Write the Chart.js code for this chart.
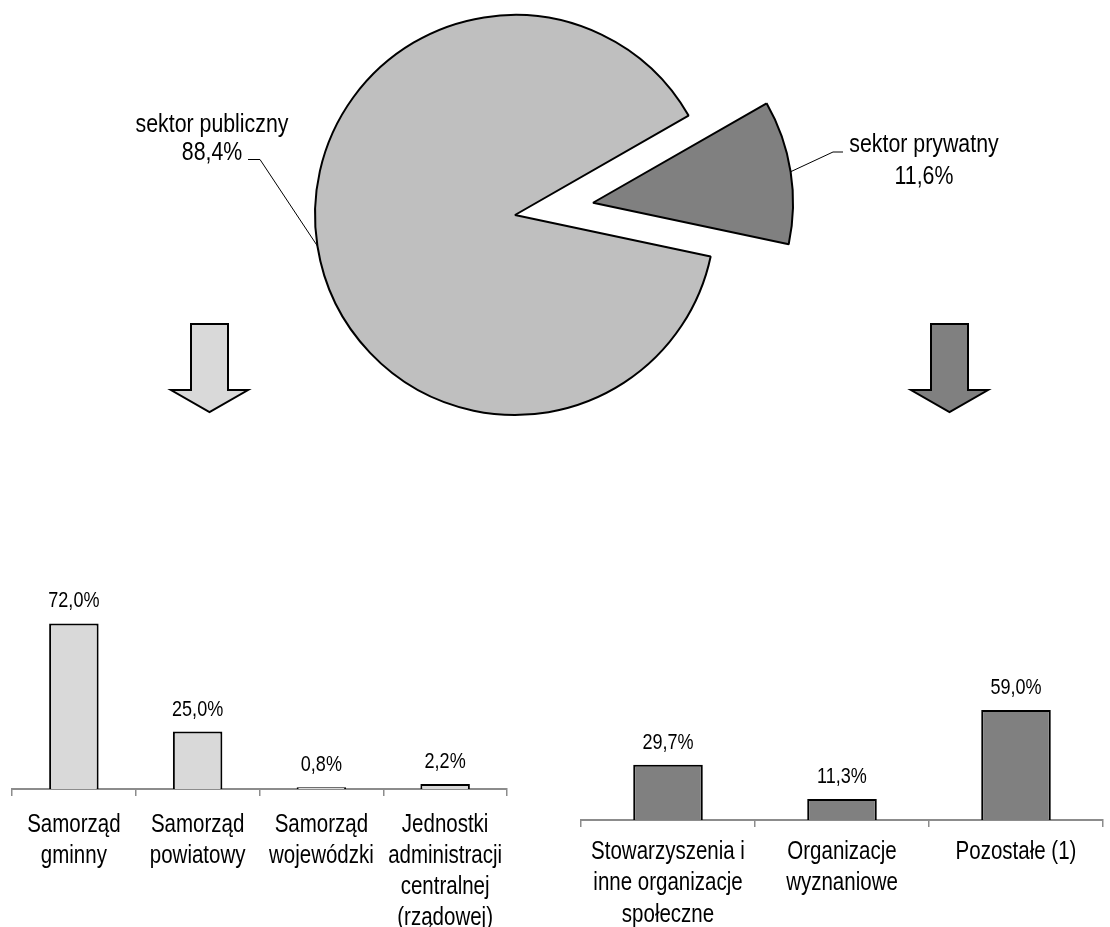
<!DOCTYPE html>
<html><head><meta charset="utf-8">
<script src="https://cdn.jsdelivr.net/npm/chart.js@4/dist/chart.umd.min.js"></script>
<style>
html,body{margin:0;padding:0;background:#fff;}
#wrap{position:relative;width:1110px;height:927px;overflow:hidden;}
canvas{position:absolute;}
</style></head><body>
<div id="wrap">
<canvas id="pie" width="1110" height="480" style="left:0;top:0"></canvas>
<canvas id="barL" width="520" height="387" style="left:0;top:540px"></canvas>
<canvas id="barR" width="540" height="367" style="left:570px;top:560px"></canvas>
</div>
<script>
// ---- data ----
const sectorLabels = ['sektor prywatny', 'sektor publiczny'];
const sectorValues = [11.6, 88.4];

const publicLabels = [['Samorząd','gminny'],['Samorząd','powiatowy'],['Samorząd','wojewódzki'],['Jednostki','administracji','centralnej','(rządowej)']];
const publicValues = [72.0, 25.0, 0.8, 2.2];

const privateLabels = [['Stowarzyszenia i','inne organizacje','społeczne'],['Organizacje','wyznaniowe'],['Pozostałe (1)']];
const privateValues = [29.7, 11.3, 59.0];

// ---- styling ----
const FONT = "'Liberation Sans',Arial,sans-serif";
const SQUEEZE = 0.82; // horizontal condensing of all text, as in the reference
Chart.defaults.font.family = FONT;
Chart.defaults.color = '#000';
const fmt = v => v.toFixed(1).replace('.', ',') + '%';

function condensedText(ctx, text, x, y, size){
  ctx.save();
  ctx.translate(x, y);
  ctx.scale(SQUEEZE, 1);
  ctx.font = `${size}px ${FONT}`;
  ctx.fillStyle = '#000';
  ctx.textAlign = 'center';
  ctx.textBaseline = 'alphabetic';
  ctx.fillText(text, 0, 0);
  ctx.restore();
}

const explode = [79, 0];
const pieLabelLayout = [
  {elbow:[833,152], end:[843,152], x:924, y:[152,184]},
  {elbow:[260,159.5], end:[248,159.5], x:212, y:[132,160]}
];
const arrows = [{cx:209.5, color:'#d9d9d9'}, {cx:949.5, color:'#808080'}];

const pieDecor = {
  id:'pieDecor',
  afterDatasetUpdate(chart, args){
    args.meta.data.forEach((el,i)=>{
      const d = explode[i] || 0; if(!d) return;
      const mid = (el.startAngle + el.endAngle)/2;
      el.x += Math.cos(mid)*d; el.y += Math.sin(mid)*d;
    });
  },
  afterDraw(chart){
    const ctx = chart.ctx;
    const meta = chart.getDatasetMeta(0);
    ctx.save();
    meta.data.forEach((el,i)=>{
      const mid = (el.startAngle + el.endAngle)/2;
      const r = el.outerRadius;
      const ax = el.x + Math.cos(mid)*r, ay = el.y + Math.sin(mid)*r;
      const L = pieLabelLayout[i];
      ctx.beginPath();
      ctx.moveTo(ax, ay); ctx.lineTo(L.elbow[0], L.elbow[1]); ctx.lineTo(L.end[0], L.end[1]);
      ctx.strokeStyle = '#000'; ctx.lineWidth = 1; ctx.stroke();
      condensedText(ctx, chart.data.labels[i], L.x, L.y[0], 26);
      condensedText(ctx, fmt(chart.data.datasets[0].data[i]), L.x, L.y[1], 26);
    });
    arrows.forEach(a=>{
      const c = a.cx;
      ctx.beginPath();
      ctx.moveTo(c-18.5, 324); ctx.lineTo(c+18.5, 324); ctx.lineTo(c+18.5, 390);
      ctx.lineTo(c+38.5, 390); ctx.lineTo(c, 412); ctx.lineTo(c-38.5, 390);
      ctx.lineTo(c-18.5, 390); ctx.closePath();
      ctx.fillStyle = a.color; ctx.fill();
      ctx.strokeStyle = '#000'; ctx.lineWidth = 2; ctx.stroke();
    });
    ctx.restore();
  }
};

new Chart(document.getElementById('pie'), {
  type:'pie',
  data:{labels:sectorLabels, datasets:[{data:sectorValues, backgroundColor:['#808080','#bfbfbf'], borderColor:'#000', borderWidth:2, radius:200}]},
  options:{
    responsive:false, animation:false, events:[],
    rotation:60.2,
    layout:{padding:{left:0,right:80,top:0,bottom:50}},
    plugins:{legend:{display:false}, tooltip:{enabled:false}}
  },
  plugins:[pieDecor]
});

// value labels above bars and condensed category labels under the axis
const barText = {
  id:'barText',
  afterDatasetsDraw(chart, args, opts){
    const ctx = chart.ctx; const meta = chart.getDatasetMeta(0);
    const vals = chart.data.datasets[0].data;
    meta.data.forEach((el,i)=>condensedText(ctx, fmt(vals[i]), el.x, el.y - 16, 22));
    const xs = chart.scales.x;
    chart.data.labels.forEach((lab,i)=>{
      const x = xs.getPixelForTick(i);
      const lines = Array.isArray(lab) ? lab : [lab];
      lines.forEach((ln,j)=>condensedText(ctx, ln, x, xs.top + opts.first + j*31.3, 25));
    });
  }
};

function barChart(id, labels, values, color, cfg){
  return new Chart(document.getElementById(id), {
    type:'bar',
    data:{labels, datasets:[{data:values, backgroundColor:color, borderColor:'#000', borderWidth:2, categoryPercentage:1, barPercentage:0.4}]},
    options:{
      responsive:false, animation:false, events:[],
      layout:{padding:cfg.padding},
      plugins:{legend:{display:false}, tooltip:{enabled:false}, barText:{first:cfg.first}},
      scales:{
        x:{
          grid:{drawOnChartArea:false, drawTicks:true, tickLength:7, color:'#8c8c8c', lineWidth:1.5, offset:true},
          border:{color:'#8c8c8c', width:2},
          ticks:{display:false, autoSkip:false, maxRotation:0, minRotation:0},
          afterFit:s=>{ s.height = cfg.axisH; }
        },
        y:{display:false, min:0, max:100}
      }
    },
    plugins:[barText]
  });
}

barChart('barL', publicLabels, publicValues, '#d9d9d9', {padding:{left:12,right:13,top:19,bottom:0}, axisH:138, first:42.5});
barChart('barR', privateLabels, privateValues, '#808080', {padding:{left:11,right:7,top:73.6,bottom:0}, axisH:107, first:39});
</script>
</body></html>
